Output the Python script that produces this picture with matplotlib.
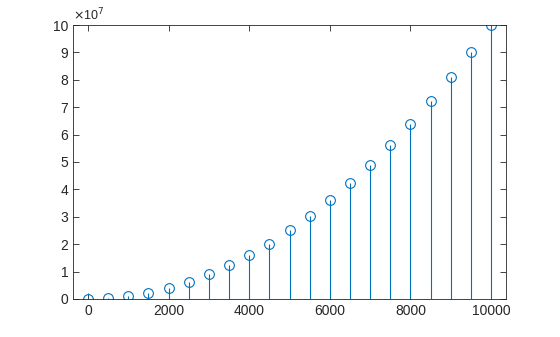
import numpy as np
import matplotlib.pyplot as plt
from matplotlib.ticker import FuncFormatter

plt.rcParams['font.family'] = ['Liberation Sans', 'DejaVu Sans']

x = [0, 500, 1000, 1500, 2000, 2500, 3000, 3500, 4000, 4500, 5000,
     5500, 6000, 6500, 7000, 7500, 8000, 8500, 9000, 9500, 10000]
y = [0, 0.025, 0.1, 0.225, 0.4, 0.625, 0.9, 1.225, 1.6, 2.025, 2.5,
     3.025, 3.6, 4.225, 4.9, 5.625, 6.4, 7.225, 8.1, 9.025, 10.0]
y = [v * 1e7 for v in y]

blue = '#0072BD'
axcol = '#262626'

fig = plt.figure(figsize=(5.6, 3.37), dpi=100)
ax = fig.add_axes([0.1304, 0.1128, 0.7732, 0.813])

ml, sl, bl = ax.stem(x, y, basefmt=' ')
plt.setp(sl, color=blue, linewidth=0.8)
plt.setp(ml, markerfacecolor='none', markeredgecolor=blue, markersize=7, markeredgewidth=0.8)

ax.set_xlim(-372, 10372)
ax.set_ylim(0, 1e8)
ax.set_xticks([0, 2000, 4000, 6000, 8000, 10000])
ax.set_yticks(np.arange(0, 1.01e8, 1e7))
ax.yaxis.set_major_formatter(FuncFormatter(lambda v, p: f'{v / 1e7:g}'))

ax.tick_params(direction='in', length=4, width=0.6, colors=axcol,
               labelsize=10, top=True, right=True)
for s in ax.spines.values():
    s.set_color(axcol)
    s.set_linewidth(0.6)

ax.text(0, 1.005, r'$\times$10$^7$', transform=ax.transAxes, fontsize=9,
        color=axcol, ha='left', va='bottom')

plt.savefig('out.png', dpi=100)
